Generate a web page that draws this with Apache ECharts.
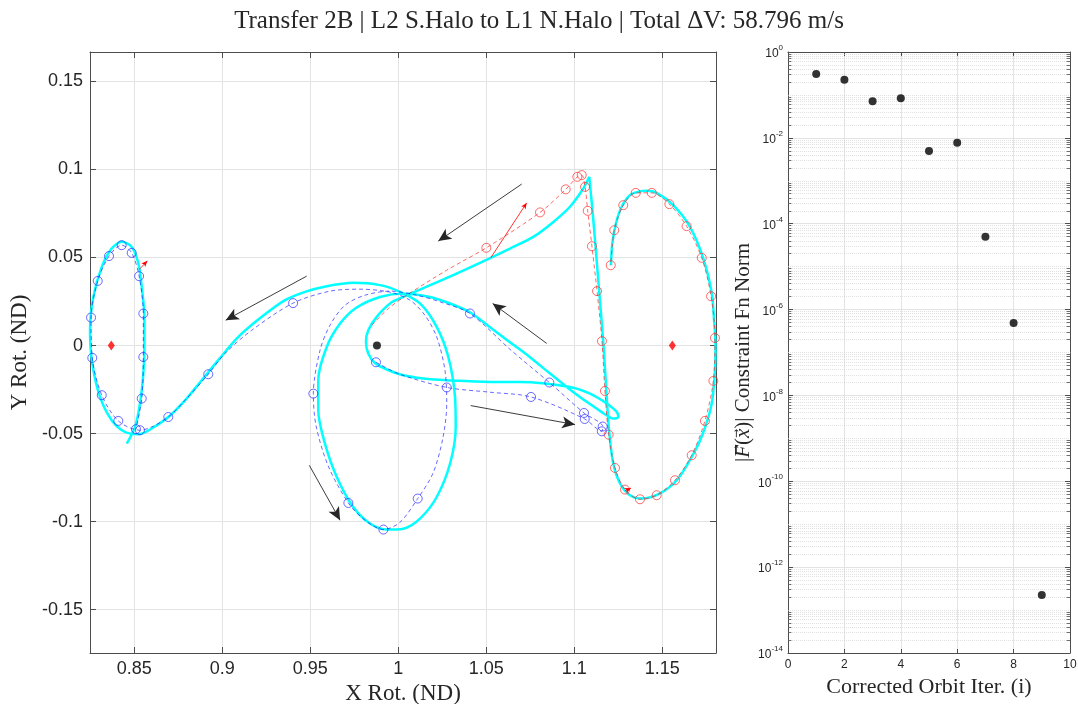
<!DOCTYPE html>
<html>
<head>
<meta charset="utf-8">
<script src="https://cdn.jsdelivr.net/npm/echarts@6/dist/echarts.min.js"></script>
<style>
  html, body { margin: 0; padding: 0; background: #ffffff; }
  #chart { width: 1078px; height: 704px; }
</style>
</head>
<body>
<div id="chart"></div>
<script>
// ---- Rotating-frame trajectory (nondimensional units) ----
// Converged transfer: departure from the L2 halo up to the first corner
const transferHaloLeg = [
  [1.1208,0.0456],[1.1216,0.0581],[1.1237,0.0695],[1.1269,0.0788],[1.1316,0.0854],[1.1363,0.0873],
  [1.1411,0.0879],[1.1468,0.0867],[1.1562,0.0797],[1.1657,0.0674],[1.1733,0.0494],[1.1781,0.0297],
  [1.1794,0.0144],[1.1802,0.0002],[1.1799,-0.0140],[1.1781,-0.0328],[1.1731,-0.0498],[1.1667,-0.0633],
  [1.1582,-0.0765],[1.1487,-0.0839],[1.1383,-0.0869],[1.1316,-0.0850],[1.1259,-0.0782],[1.1221,-0.0669],
  [1.1199,-0.0498],[1.1184,-0.0292],[1.1165,0.0013],[1.1136,0.0371],[1.1108,0.0712],[1.1085,0.0958]
];
// Converged transfer: corner to the burn point
const transferDescentLeg = [
  [1.1085,0.0958],[1.1051,0.0892],[1.0975,0.0788],[1.0881,0.0702],[1.0767,0.0617],[1.0634,0.0551],[1.0525,0.0498]
];
// Converged transfer: burn point, lunar flyby and arrival on the L1 halo
const transferLunarLeg = [
  [1.0525,0.0498],[1.0312,0.0400],[1.0123,0.0318],[1.0028,0.0276],[0.9953,0.0239],[0.9877,0.0163],
  [0.9829,0.0087],[0.9816,0.0021],[0.9829,-0.0045],[0.9867,-0.0099],[0.9934,-0.0136],[1.0028,-0.0169],
  [1.0142,-0.0187],[1.0275,-0.0197],[1.0521,-0.0207],[1.0691,-0.0207],[1.0975,-0.0235],[1.1089,-0.0273],
  [1.1184,-0.0329],[1.1241,-0.0377],[1.1250,-0.0406],[1.1221,-0.0415],[1.1184,-0.0396],[1.1127,-0.0358],
  [1.1032,-0.0292],[1.0957,-0.0235],[1.0862,-0.0159],[1.0748,-0.0066],[1.0634,0.0019],[1.0521,0.0104],
  [1.0407,0.0189],[1.0294,0.0239],[1.0180,0.0276],[1.0028,0.0296],[0.9896,0.0276],[0.9763,0.0216],
  [0.9669,0.0125],[0.9593,-0.0008],[0.9545,-0.0197],[0.9545,-0.0367],[0.9583,-0.0557],[0.9650,-0.0746],
  [0.9744,-0.0917],[0.9839,-0.1011],[0.9934,-0.1045],[1.0028,-0.1040],[1.0123,-0.0983],[1.0218,-0.0860],
  [1.0294,-0.0670],[1.0326,-0.0462],[1.0322,-0.0292],[1.0284,-0.0065],[1.0218,0.0106],[1.0123,0.0239],
  [1.0009,0.0305],[0.9896,0.0343],[0.9744,0.0356],[0.9574,0.0333],[0.9470,0.0305],[0.9356,0.0258],
  [0.9224,0.0163],[0.9091,0.0049],[0.8977,-0.0083],[0.8883,-0.0197],[0.8788,-0.0311],[0.8693,-0.0406],
  [0.8599,-0.0471],[0.8523,-0.0504],[0.8447,-0.0491],[0.8371,-0.0424],[0.8305,-0.0292],[0.8261,-0.0102],
  [0.8248,0.0087],[0.8267,0.0276],[0.8315,0.0447],[0.8371,0.0551],[0.8428,0.0589],[0.8485,0.0560],
  [0.8523,0.0466],[0.8542,0.0333],[0.8557,0.0163],[0.8557,-0.0008],[0.8551,-0.0159],[0.8532,-0.0329],
  [0.8504,-0.0462],[0.8457,-0.0557]
];

// Initial guess, L2 halo segment (red): path and patch nodes
const guessL2Path = [
  [0.9850,0.0116],[0.9943,0.0210],[1.0048,0.0286],[1.0275,0.0428],[1.0500,0.0555],[1.0805,0.0756],
  [1.0951,0.0887],[1.1017,0.0958],[1.1042,0.0968],[1.1061,0.0901],[1.1076,0.0765],[1.1100,0.0564],
  [1.1129,0.0309],[1.1157,0.0025],[1.1174,-0.0258],[1.1195,-0.0506],[1.1231,-0.0695],[1.1288,-0.0818],
  [1.1373,-0.0873],[1.1468,-0.0850],[1.1572,-0.0765],[1.1667,-0.0623],[1.1742,-0.0428],[1.1790,-0.0201],
  [1.1799,0.0043],[1.1777,0.0280],[1.1724,0.0498],[1.1638,0.0678],[1.1540,0.0803],[1.1440,0.0867],
  [1.1349,0.0867],[1.1278,0.0797],[1.1227,0.0655],[1.1207,0.0456]
];
const guessL2Nodes = [
  [1.0500,0.0555],[1.0805,0.0756],[1.0951,0.0887],[1.1017,0.0958],[1.1042,0.0968],[1.1061,0.0901],
  [1.1076,0.0765],[1.1100,0.0564],[1.1129,0.0309],[1.1157,0.0025],[1.1174,-0.0258],[1.1195,-0.0506],
  [1.1231,-0.0695],[1.1288,-0.0818],[1.1373,-0.0873],[1.1468,-0.0850],[1.1572,-0.0765],[1.1667,-0.0623],
  [1.1742,-0.0428],[1.1790,-0.0201],[1.1799,0.0043],[1.1777,0.0280],[1.1724,0.0498],[1.1638,0.0678],
  [1.1540,0.0803],[1.1440,0.0867],[1.1349,0.0867],[1.1278,0.0797],[1.1227,0.0655],[1.1207,0.0456]
];

// Initial guess, L1 halo segment (blue): path and patch nodes
const guessL1Path = [
  [0.9873,-0.0095],[1.0009,-0.0163],[1.0275,-0.0238],[1.0521,-0.0265],[1.0754,-0.0292],[1.1059,-0.0417],
  [1.1156,-0.0487],[1.1161,-0.0460],[1.1055,-0.0383],[1.0858,-0.0210],[1.0634,-0.0021],[1.0407,0.0182],
  [1.0237,0.0248],[1.0104,0.0286],[0.9953,0.0309],[0.9811,0.0286],[0.9697,0.0229],[0.9612,0.0116],
  [0.9555,-0.0027],[0.9517,-0.0273],[0.9532,-0.0453],[0.9600,-0.0680],[0.9716,-0.0894],[0.9811,-0.0992],
  [0.9915,-0.1045],[1.0009,-0.1004],[1.0110,-0.0869],[1.0197,-0.0725],[1.0254,-0.0521],[1.0275,-0.0328],
  [1.0265,-0.0140],[1.0218,0.0049],[1.0151,0.0172],[1.0066,0.0258],[0.9953,0.0303],[0.9782,0.0320],
  [0.9612,0.0309],[0.9402,0.0241],[0.9167,0.0087],[0.9015,-0.0045],[0.8920,-0.0163],[0.8788,-0.0311],
  [0.8693,-0.0406],[0.8599,-0.0462],[0.8532,-0.0481],[0.8409,-0.0428],[0.8315,-0.0282],[0.8261,-0.0070],
  [0.8254,0.0159],[0.8292,0.0367],[0.8356,0.0508],[0.8428,0.0570],[0.8485,0.0526],[0.8527,0.0394],
  [0.8551,0.0182],[0.8551,-0.0065],[0.8542,-0.0301],[0.8509,-0.0475]
];
const guessL1Nodes = [
  [0.9873,-0.0095],[1.0275,-0.0238],[1.0754,-0.0292],[1.1059,-0.0417],[1.1156,-0.0487],[1.1161,-0.0460],
  [1.1055,-0.0383],[1.0858,-0.0210],[1.0407,0.0182],[0.9517,-0.0273],[0.9716,-0.0894],[0.9915,-0.1045],
  [1.0110,-0.0869],[0.9402,0.0241],[0.8920,-0.0163],[0.8693,-0.0406],[0.8532,-0.0481],[0.8409,-0.0428],
  [0.8315,-0.0282],[0.8261,-0.0070],[0.8254,0.0159],[0.8292,0.0367],[0.8356,0.0508],[0.8428,0.0570],
  [0.8485,0.0526],[0.8527,0.0394],[0.8551,0.0182],[0.8551,-0.0065],[0.8542,-0.0301],[0.8509,-0.0475]
];

// Libration points L1, L2 and the Moon
const librationPoints = [[0.8369, 0], [1.1557, 0]];
const moonPosition = [[0.98785, 0]];

// Direction-of-motion arrows: [from, to]
const flowArrows = [
  [[1.0701, 0.0917], [1.0227, 0.0593]],
  [[0.9479, 0.0394], [0.9019, 0.0144]],
  [[1.0843, 0.0012], [1.0536, 0.0239]],
  [[1.0411, -0.0341], [1.1004, -0.0449]],
  [[0.9494, -0.0680], [0.9669, -0.0992]]
];
// Maneuver direction vectors: [from, to]
const burnVectors = [
  [[1.0525, 0.0498], [1.0729, 0.0810]],
  [[0.8528, 0.0432], [0.8574, 0.0481]],
  [[1.1288, -0.0824], [1.1322, -0.0810]]
];

// ---- Differential-corrector convergence ----
const iterations = [1, 2, 3, 4, 5, 6, 7, 8, 9];
const constraintNorm = [0.307, 0.227, 0.0711, 0.0835, 0.00494, 0.00774, 5.0e-5, 4.87e-7, 2.25e-13];
const normAxisMin = 1e-14;
const normAxisMax = 1;
const iterAxisMax = 10;

// Minor log grid positions (k * 10^n), excluding the labelled decades
const minorGridValues = [];
for (let n = -14; n < 0; n++) {
  for (let k = 1; k <= 9; k++) {
    if (k === 1 && n % 2 === 0) continue;
    minorGridValues.push(k * Math.pow(10, n));
  }
}
// every k * 10^n gets a short tick on both vertical edges
const minorTickValues = [];
for (let n = -14; n < 0; n++) {
  for (let k = 2; k <= 9; k++) minorTickValues.push(k * Math.pow(10, n));
}
const minorTickLen = 0.12;

const TICK_COLOR = '#262626';
const AXIS_COLOR = '#4d4d4d';
const GRID_COLOR = '#e3e3e3';
const SANS = 'Liberation Sans, Arial, Helvetica, sans-serif';
const SERIF = 'Liberation Serif, Times New Roman, serif';

function boxAxis(extra) {
  return Object.assign({
    axisLine: { show: true, onZero: false, lineStyle: { color: AXIS_COLOR, width: 1 } },
    axisTick: { show: true, inside: true, length: 6, lineStyle: { color: AXIS_COLOR, width: 1 } },
    axisLabel: { show: false },
    splitLine: { show: false }
  }, extra);
}

const chart = echarts.init(document.getElementById('chart'), null, { renderer: 'canvas' });

const option = {
  animation: false,
  backgroundColor: '#ffffff',
  title: {
    text: 'Transfer 2B | L2 S.Halo to L1 N.Halo | Total \u0394V: 58.796 m/s',
    left: 'center',
    top: 4,
    textStyle: { fontFamily: SERIF, fontSize: 25, fontWeight: 'normal', color: TICK_COLOR }
  },
  grid: [
    { left: 90, top: 52, width: 626, height: 601, containLabel: false, outerBoundsMode: 'none' },
    { left: 788, top: 52, width: 282, height: 601, containLabel: false, outerBoundsMode: 'none' }
  ],
  xAxis: [
    boxAxis({
      type: 'value', gridIndex: 0, position: 'bottom', min: 0.8248, max: 1.1805,
      splitNumber: 7, minInterval: 0.05, maxInterval: 0.05,
      name: 'X Rot. (ND)', nameLocation: 'middle', nameGap: 27,
      nameTextStyle: { fontFamily: SERIF, fontSize: 23, color: TICK_COLOR },
      axisLabel: { show: true, showMinLabel: false, showMaxLabel: false, margin: 7,
        fontFamily: SANS, fontSize: 18, color: TICK_COLOR },
      splitLine: { show: true, lineStyle: { color: GRID_COLOR, width: 1 } }
    }),
    boxAxis({
      type: 'value', gridIndex: 0, position: 'top', min: 0.8248, max: 1.1805,
      splitNumber: 7, minInterval: 0.05, maxInterval: 0.05
    }),
    boxAxis({
      type: 'value', gridIndex: 1, position: 'bottom', min: 0, max: iterAxisMax, interval: 2,
      name: 'Corrected Orbit Iter. (i)', nameLocation: 'middle', nameGap: 19,
      nameTextStyle: { fontFamily: SERIF, fontSize: 22, color: TICK_COLOR },
      axisLabel: { show: true, margin: 6, fontFamily: SANS, fontSize: 12, color: TICK_COLOR },
      splitLine: { show: true, lineStyle: { color: GRID_COLOR, width: 1 } },
      axisTick: { show: true, inside: true, length: 4, lineStyle: { color: AXIS_COLOR, width: 1 } }
    }),
    boxAxis({
      type: 'value', gridIndex: 1, position: 'top', min: 0, max: iterAxisMax, interval: 2,
      axisTick: { show: true, inside: true, length: 4, lineStyle: { color: AXIS_COLOR, width: 1 } }
    })
  ],
  yAxis: [
    boxAxis({
      type: 'value', gridIndex: 0, position: 'left', min: -0.1746, max: 0.1667,
      splitNumber: 7, minInterval: 0.05, maxInterval: 0.05,
      name: 'Y Rot. (ND)', nameLocation: 'middle', nameGap: 56,
      nameTextStyle: { fontFamily: SERIF, fontSize: 23, color: TICK_COLOR },
      axisLabel: { show: true, showMinLabel: false, showMaxLabel: false, margin: 7,
        fontFamily: SANS, fontSize: 18, color: TICK_COLOR },
      splitLine: { show: true, lineStyle: { color: GRID_COLOR, width: 1 } }
    }),
    boxAxis({
      type: 'value', gridIndex: 0, position: 'right', min: -0.1746, max: 0.1667,
      splitNumber: 7, minInterval: 0.05, maxInterval: 0.05
    }),
    boxAxis({
      type: 'log', logBase: 10, gridIndex: 1, position: 'left', min: normAxisMin, max: normAxisMax,
      interval: 2,
      name: '|{i|F}{v|\u20D7}({i|x}{v|\u20D7})| Constraint Fn Norm', nameLocation: 'middle', nameGap: 31,
      nameTextStyle: { fontFamily: SERIF, fontSize: 21, color: TICK_COLOR,
        rich: {
          i: { fontFamily: SERIF, fontSize: 21, fontStyle: 'italic', color: TICK_COLOR },
          v: { fontFamily: 'DejaVu Sans', fontSize: 18, color: TICK_COLOR }
        } },
      axisLabel: {
        show: true, margin: 5, color: TICK_COLOR,
        formatter: function (v) {
          const e = Math.round(Math.log10(v));
          return '{b|10}{e|' + e + '}';
        },
        rich: {
          b: { fontFamily: SANS, fontSize: 12, color: TICK_COLOR, lineHeight: 16, verticalAlign: 'bottom' },
          e: { fontFamily: SANS, fontSize: 8, color: TICK_COLOR, lineHeight: 8, verticalAlign: 'top' }
        }
      },
      splitLine: { show: true, lineStyle: { color: GRID_COLOR, width: 1 } },
      axisTick: { show: true, inside: true, length: 5, lineStyle: { color: AXIS_COLOR, width: 1 } }
    }),
    boxAxis({
      type: 'log', logBase: 10, gridIndex: 1, position: 'right', min: normAxisMin, max: normAxisMax,
      interval: 2,
      axisTick: { show: true, inside: true, length: 5, lineStyle: { color: AXIS_COLOR, width: 1 } }
    })
  ],
  series: [
    // converged transfer (cyan)
    { type: 'line', name: 'transfer', xAxisIndex: 0, yAxisIndex: 0, data: transferHaloLeg,
      showSymbol: false, smooth: 0.3, silent: true, z: 2,
      lineStyle: { color: '#00ffff', width: 2.5 } },
    { type: 'line', name: 'transfer', xAxisIndex: 0, yAxisIndex: 0, data: transferDescentLeg,
      showSymbol: false, smooth: 0.3, silent: true, z: 2,
      lineStyle: { color: '#00ffff', width: 2.5 } },
    { type: 'line', name: 'transfer', xAxisIndex: 0, yAxisIndex: 0, data: transferLunarLeg,
      showSymbol: false, smooth: 0.3, silent: true, z: 2,
      lineStyle: { color: '#00ffff', width: 2.5 } },
    // initial guesses (dashed)
    { type: 'line', name: 'guess L2', xAxisIndex: 0, yAxisIndex: 0, data: guessL2Path,
      showSymbol: false, smooth: 0.3, silent: true, z: 3,
      lineStyle: { color: '#ff2020', width: 0.8, type: [4, 3], opacity: 0.85 } },
    { type: 'line', name: 'guess L1', xAxisIndex: 0, yAxisIndex: 0, data: guessL1Path,
      showSymbol: false, smooth: 0.3, silent: true, z: 3,
      lineStyle: { color: '#2020ff', width: 0.8, type: [4, 3], opacity: 0.85 } },
    { type: 'scatter', name: 'nodes L2', xAxisIndex: 0, yAxisIndex: 0, data: guessL2Nodes,
      symbol: 'circle', symbolSize: 9, silent: true, z: 4,
      itemStyle: { color: 'rgba(0,0,0,0)', borderColor: '#ff3030', borderWidth: 0.8, opacity: 0.9 } },
    { type: 'scatter', name: 'nodes L1', xAxisIndex: 0, yAxisIndex: 0, data: guessL1Nodes,
      symbol: 'circle', symbolSize: 9, silent: true, z: 4,
      itemStyle: { color: 'rgba(0,0,0,0)', borderColor: '#3030ff', borderWidth: 0.8, opacity: 0.9 } },
    // libration points and Moon
    { type: 'scatter', name: 'Lagrange', xAxisIndex: 0, yAxisIndex: 0, data: librationPoints,
      symbol: 'diamond', symbolSize: [7, 10], silent: true, z: 5, itemStyle: { color: '#ff0000' } },
    { type: 'scatter', name: 'Moon', xAxisIndex: 0, yAxisIndex: 0, data: moonPosition,
      symbol: 'circle', symbolSize: 8, silent: true, z: 5, itemStyle: { color: '#000000' } },
    // motion arrows
    { type: 'line', name: 'flow', xAxisIndex: 0, yAxisIndex: 0, data: [], silent: true, z: 6,
      markLine: {
        silent: true, animation: false, symbol: ['none', 'arrow'], symbolSize: [9, 13],
        label: { show: false }, emphasis: { disabled: true },
        lineStyle: { color: '#262626', width: 0.9, type: 'solid' },
        data: flowArrows.map(a => [{ coord: a[0] }, { coord: a[1] }])
      } },
    { type: 'line', name: 'burns', xAxisIndex: 0, yAxisIndex: 0, data: [], silent: true, z: 6,
      markLine: {
        silent: true, animation: false, symbol: ['none', 'arrow'], symbolSize: [4, 6],
        label: { show: false }, emphasis: { disabled: true },
        lineStyle: { color: '#ff0000', width: 0.8, type: 'solid' },
        data: burnVectors.map(a => [{ coord: a[0] }, { coord: a[1] }])
      } },
    // minor log grid on the convergence panel
    { type: 'lines', name: 'minor grid', coordinateSystem: 'cartesian2d', xAxisIndex: 2, yAxisIndex: 2,
      silent: true, z: 1, polyline: false,
      lineStyle: { color: '#cfcfcf', width: 0.6, type: [1, 1], opacity: 1 },
      data: minorGridValues.map(v => ({ coords: [[0, v], [iterAxisMax, v]] })) },
    // minor ticks on both vertical edges
    { type: 'lines', name: 'minor ticks', coordinateSystem: 'cartesian2d', xAxisIndex: 2, yAxisIndex: 2,
      silent: true, z: 3, polyline: false,
      lineStyle: { color: AXIS_COLOR, width: 0.8, opacity: 1 },
      data: minorTickValues.map(v => ({ coords: [[0, v], [minorTickLen, v]] }))
        .concat(minorTickValues.map(v => ({ coords: [[iterAxisMax - minorTickLen, v], [iterAxisMax, v]] }))) },
    { type: 'scatter', name: 'norm', xAxisIndex: 2, yAxisIndex: 2,
      data: iterations.map((it, i) => [it, constraintNorm[i]]),
      symbol: 'circle', symbolSize: 8, silent: true, z: 5, itemStyle: { color: '#000000' } }
  ]
};

chart.setOption(option);
</script>
</body>
</html>
